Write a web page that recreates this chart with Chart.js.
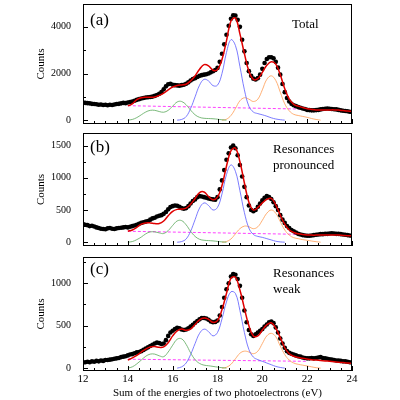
<!DOCTYPE html>
<html><head><meta charset="utf-8">
<script src="https://cdn.jsdelivr.net/npm/chart.js@4"></script>
<style>body{margin:0;background:#fff;width:400px;height:400px;position:relative;overflow:hidden}canvas{position:absolute;left:0}</style>
</head><body>
<canvas id="ca" style="top:0" width="400" height="128"></canvas>
<canvas id="cb" style="top:129px" width="400" height="121"></canvas>
<canvas id="cc" style="top:253px" width="400" height="147"></canvas>
<script>
// data: measured counts at 0.1 eV from 12 to 24
const dataA=[760,740,730,720,700,690,680,660,670,650,660,
640,660,650,670,690,700,720,740,730,760,
780,800,830,870,900,930,950,970,980,990,
1010,1040,1080,1130,1200,1320,1450,1540,1560,1520,
1500,1490,1480,1500,1520,1560,1620,1700,1760,1800,
1850,1900,1930,1950,1970,2000,2050,2100,2150,2240,
2500,2850,3250,3660,4050,4350,4500,4480,4300,4000,
3450,2950,2450,2100,1900,1780,1740,1800,1950,2200,
2450,2620,2700,2700,2650,2500,2250,1950,1550,1200,
950,800,700,640,600,560,530,500,480,440,
430,420,420,430,440,460,480,490,500,490,
480,470,460,440,420,400,390,380,360,350];
const dataB=[280,270,265,250,255,245,230,220,210,205,200,
215,220,210,205,215,220,225,230,235,230,
240,250,260,270,285,300,310,320,330,350,
370,380,400,410,420,440,470,510,545,560,
570,565,550,530,520,530,560,600,640,665,
700,715,710,700,690,680,670,665,660,700,
820,960,1120,1280,1380,1470,1500,1460,1350,1200,
1020,860,700,570,500,480,500,550,600,650,
690,715,700,670,620,560,500,420,350,300,
250,220,190,170,150,130,120,110,105,100,
100,105,110,115,120,125,125,130,130,135,
140,135,130,130,125,120,115,110,105,100];
const dataC=[65,70,75,70,80,75,85,80,90,85,95,
95,100,105,110,115,120,130,135,140,150,
160,165,175,185,190,200,215,230,245,260,
275,290,300,295,285,290,330,380,420,440,
460,475,470,455,450,455,470,490,510,535,
555,575,590,590,585,570,550,540,545,560,
620,720,830,930,1000,1080,1110,1100,1050,970,
830,680,540,450,400,380,400,420,440,460,
490,515,540,550,530,480,420,350,290,240,
200,180,170,160,150,140,135,125,120,115,
115,120,115,120,125,130,120,115,110,105,
100,95,90,90,85,80,80,75,70,65];
// fits at 0.2 eV from 14 to 24
const fitA=[610,700,880,960,980,980,990,1060,1160,1300,1420,1490,1510,1540,1680,1900,2180,2380,2330,2140,2170,2600,3400,4250,4380,3700,2850,2100,1750,1780,2050,2350,2500,2400,1950,1350,900,680,600,540,490,460,440,440,440,440,440,430,410,390,380];
const fitB=[170,190,230,280,300,300,290,290,330,410,480,510,515,530,590,680,770,780,710,660,700,880,1180,1420,1460,1250,920,620,500,540,610,665,680,580,420,280,190,150,130,120,113,110,110,110,110,110,110,110,105,100,100];
const fitC=[95,120,150,190,225,250,255,245,250,300,380,440,460,445,460,515,570,590,575,540,560,690,880,1060,1070,920,705,500,380,380,450,510,535,470,360,240,170,140,125,115,107,100,95,90,85,80,75,70,65,60,57];
// components, 0.2 eV steps: green from 14, blue from 16.2, orange from 18.2
const greenA=[0,30,110,230,350,420,420,370,340,420,600,780,800,660,430,230,120,80,70,60,40,15,0];
const blueA=[0,30,150,500,1000,1500,1750,1680,1480,1500,2000,2900,3450,3200,2300,1300,600,350,280,230,170,100,50,20,0];
const orangeA=[0,40,200,500,830,960,900,800,900,1300,1750,1900,1700,1200,700,400,250,200,160,120,70,30,0];
const greenB=[0,10,40,80,130,160,160,145,135,180,260,330,335,270,170,90,45,30,25,20,12,5,0];
const blueB=[0,10,50,170,350,530,610,570,500,540,750,1050,1200,1100,800,460,220,120,90,75,55,35,15,5,0];
const orangeB=[0,10,50,130,210,250,240,210,240,340,450,500,450,320,190,110,70,55,40,30,18,8,0];
const greenC=[0,15,50,95,140,165,165,145,135,190,270,340,345,280,180,100,55,35,28,20,12,5,0];
const blueC=[0,15,60,160,290,410,460,430,380,420,580,780,900,880,680,420,220,130,100,80,60,40,20,8,0];
const orangeC=[0,10,45,110,175,200,190,170,200,290,380,410,370,260,160,95,60,45,35,25,15,5,0];
// linear backgrounds [at 14 eV, at 22 eV]
const baseA=[620,470], baseB=[170,120], baseC=[105,80];
const xTicks=[12,14,16,18,20,22,24];
const yTicksA=[0,2000,4000], yTicksB=[0,500,1000,1500], yTicksC=[0,500,1000];

const pts=(start,step,arr)=>arr.map((v,i)=>({x:+(start+i*step).toFixed(2),y:v}));
const F='"Liberation Serif","DejaVu Serif",serif';
const frame={id:'frame',afterDraw(ch){const a=ch.chartArea,c=ch.ctx;c.save();c.strokeStyle='#000';c.lineWidth=1;c.strokeRect(a.left+0.5,a.top+0.5,a.right-a.left-1,a.bottom-a.top-1);
 const xs=ch.scales.x,ys=ch.scales.y;
 for(let e=12;e<=24;e+=0.5){const px=Math.round(xs.getPixelForValue(e))+0.5;const L=(e%2===0)?5:3;c.beginPath();c.moveTo(px,a.bottom);c.lineTo(px,a.bottom-L);c.stroke();}
 const yt=ch.options.plugins.frame.yt;const st=yt[1]-yt[0];
 for(let v=0;v<=ys.max;v+=st/2){const py=Math.round(ys.getPixelForValue(v))+0.5;const L=(yt.includes(v))?5:3;c.beginPath();c.moveTo(a.left,py);c.lineTo(a.left+L,py);c.stroke();}
 const lab=ch.options.plugins.frame.labels;c.fillStyle='#000';c.textBaseline='alphabetic';
 lab.forEach(l=>{c.font=l.s+'px '+F;c.textAlign=l.al||'left';c.fillText(l.t,l.x,l.y);});
 c.save();c.translate(44,(a.top+a.bottom)/2);c.rotate(-Math.PI/2);c.font='11px '+F;c.textAlign='center';c.fillText('Counts',0,0);c.restore();
 c.restore();}};
function make(id,d,fit,g,b,o,base,yt,min,max,labels,showX){
 new Chart(document.getElementById(id),{type:'line',
 data:{datasets:[
  {data:pts(12,0.1,d),showLine:false,pointRadius:2.3,pointBackgroundColor:'#000',pointBorderWidth:0,order:2},
  {data:pts(14,0.2,fit),borderColor:'#e00000',borderWidth:1.5,pointRadius:0,tension:0.4,order:1},
  {data:pts(14,0.2,g),borderColor:'#5aa85a',borderWidth:0.8,pointRadius:0,tension:0.4,order:3},
  {data:pts(16.2,0.2,b),borderColor:'#5a5aff',borderWidth:0.8,pointRadius:0,tension:0.4,order:3},
  {data:pts(18.2,0.2,o),borderColor:'#ff9a50',borderWidth:0.8,pointRadius:0,tension:0.4,order:3},
  {data:[{x:14,y:base[0]},{x:22,y:base[1]}],borderColor:'#ff40ff',borderWidth:1,borderDash:[3,2],pointRadius:0,order:3}
 ]},
 options:{responsive:false,animation:false,events:[],
  layout:{padding:{left:0,right:48,top:1,bottom:showX?0:1}},
  plugins:{legend:{display:false},tooltip:{enabled:false},frame:{yt,labels}},
  scales:{
   x:{type:'linear',min:12,max:24,display:showX,grid:{display:false,drawTicks:false},border:{display:false},
    afterBuildTicks:s=>{s.ticks=xTicks.map(v=>({value:v}))},
    afterFit:s=>{if(showX){s.height=29;} s.paddingLeft=0;s.paddingRight=0;},
    ticks:{color:'#000',font:{family:F,size:11},padding:2,maxRotation:0},
    title:{display:showX,text:'Sum of the energies of two photoelectrons (eV)',color:'#000',font:{family:F,size:11},padding:{top:1,bottom:0}}},
   y:{min,max,grid:{display:false},border:{display:false},
    afterBuildTicks:s=>{s.ticks=yt.map(v=>({value:v}))},
    afterFit:s=>{s.width=83;s.paddingTop=0;s.paddingBottom=0;},
    ticks:{color:'#000',font:{family:F,size:10},padding:4,callback:v=>String(v)}}
  }},plugins:[frame]});
}
make('ca',dataA,fitA,greenA,blueA,orangeA,baseA,yTicksA,-165,4980,
 [{t:'(a)',x:90,y:25,s:17},{t:'Total',x:292,y:28,s:13}],false);
make('cb',dataB,fitB,greenB,blueB,orangeB,baseB,yTicksB,-59,1696,
 [{t:'(b)',x:90,y:23,s:17},{t:'Resonances',x:273,y:24,s:13},{t:'pronounced',x:273,y:40,s:13}],false);
make('cc',dataC,fitC,greenC,blueC,orangeC,baseC,yTicksC,-34,1310,
 [{t:'(c)',x:90,y:21,s:17},{t:'Resonances',x:273,y:24,s:13},{t:'weak',x:273,y:40,s:13}],true);
</script></body></html>
